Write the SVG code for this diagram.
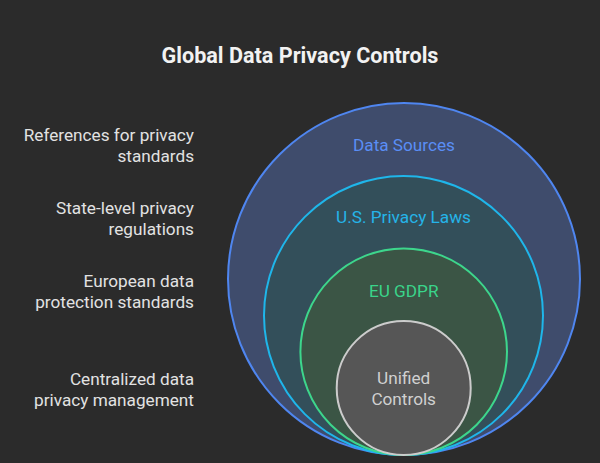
<svg xmlns="http://www.w3.org/2000/svg" width="600" height="463" viewBox="0 0 600 463">
<style>
text{font-family:Roboto,"Liberation Sans",sans-serif}
.title{font-size:21.6px;font-weight:bold;fill:#f2f2f2;text-anchor:middle}
.desc{font-size:17.2px;fill:#e2e2e2;text-anchor:end}
.lbl{font-size:17.2px;text-anchor:middle}
.ring{stroke-width:2}
</style>
<rect width="600" height="463" fill="#2b2b2b"/>
<text class="title" x="300" y="63">Global Data Privacy Controls</text>
<g id="descriptions">
<text class="desc" x="194" y="141">References for privacy</text>
<text class="desc" x="194" y="162">standards</text>
<text class="desc" x="194" y="214">State-level privacy</text>
<text class="desc" x="194" y="235">regulations</text>
<text class="desc" x="194" y="287">European data</text>
<text class="desc" x="194" y="308">protection standards</text>
<text class="desc" x="194" y="385">Centralized data</text>
<text class="desc" x="194" y="406">privacy management</text>
</g>
<g id="data-sources">
<circle class="ring" cx="404" cy="279" r="176" fill="#3f4c6c" stroke="#4f86f0"/>
<text class="lbl" x="404" y="151" fill="#5a8ef5">Data Sources</text>
</g>
<g id="us-privacy-laws">
<circle class="ring" cx="403.5" cy="315.5" r="139.5" fill="#334f5a" stroke="#1fb6ea"/>
<text class="lbl" x="403.5" y="223" fill="#25b4e8">U.S. Privacy Laws</text>
</g>
<g id="eu-gdpr">
<circle class="ring" cx="403.7" cy="351.7" r="103.3" fill="#3b5545" stroke="#3dd68c"/>
<text class="lbl" x="403.7" y="297" fill="#3ad48a">EU GDPR</text>
</g>
<g id="unified-controls">
<circle class="ring" cx="403.7" cy="388" r="67" fill="#565656" stroke="#cccccc"/>
<text class="lbl" x="403.7" y="384" fill="#d0d0d0">Unified</text>
<text class="lbl" x="403.7" y="405" fill="#d0d0d0">Controls</text>
</g>
<g id="connectors"></g>
</svg>
